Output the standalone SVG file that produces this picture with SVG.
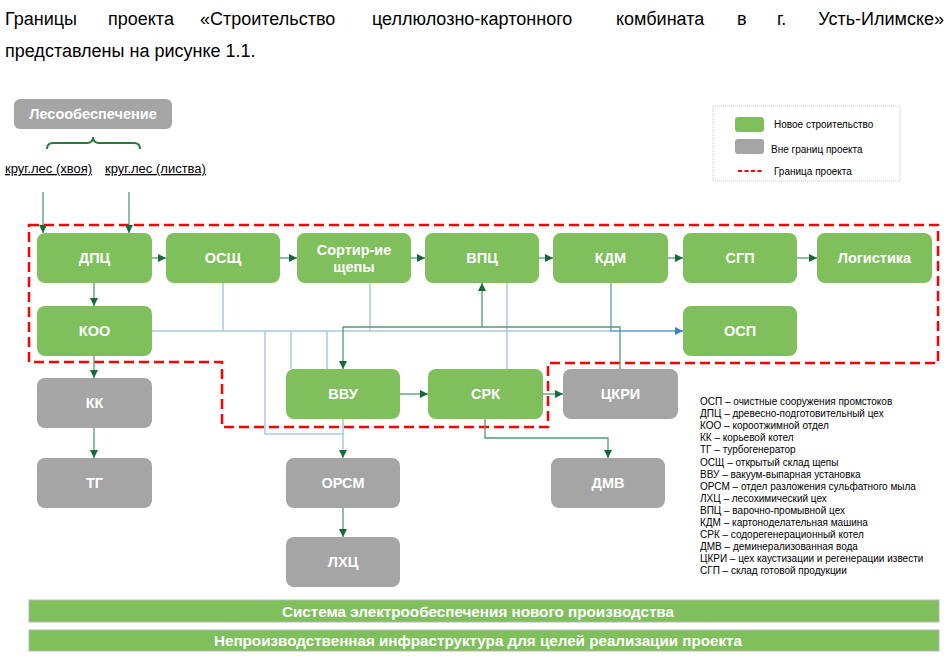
<svg xmlns="http://www.w3.org/2000/svg" width="949" height="668" viewBox="0 0 949 668">
<style>
.hdr{font-family:"Liberation Sans",Arial,sans-serif;font-size:18px;fill:#000}
.ng rect{fill:#80c05c}
.gy rect{fill:#a5a5a5}
.lbl{font-family:"Liberation Sans",Arial,sans-serif;font-size:14.5px;font-weight:bold;fill:#fff;text-anchor:middle}
.sm{font-family:"Liberation Sans",Arial,sans-serif;font-size:13px;fill:#000;text-decoration:underline}
.lg{font-family:"Liberation Sans",Arial,sans-serif;font-size:10px;fill:#000}
.ab{font-family:"Liberation Sans",Arial,sans-serif;font-size:10px;fill:#000}
.gc{fill:none;stroke:#4f9b73;stroke-width:1.3}
.bc{fill:none;stroke:#a9c8e7;stroke-width:1.5}
.bs{fill:none;stroke:#5b9bd5;stroke-width:1.3}
.bar{fill:#80c05c;stroke:#b5b5b5;stroke-width:1}
.bt{font-family:"Liberation Sans",Arial,sans-serif;font-size:15px;font-weight:bold;fill:#fff;text-anchor:middle}
</style>
<defs>
<marker id="ag" viewBox="0 0 8 8" refX="8" refY="4" markerWidth="8" markerHeight="8" orient="auto" markerUnits="userSpaceOnUse"><path d="M0,0 L8,4 L0,8 z" fill="#17693a"/></marker>
<marker id="ab" viewBox="0 0 8 8" refX="8" refY="4" markerWidth="8" markerHeight="8" orient="auto" markerUnits="userSpaceOnUse"><path d="M0,0 L8,4 L0,8 z" fill="#3d7fc7"/></marker>
</defs>
<rect width="949" height="668" fill="#fff"/>

<g id="header">
<text class="hdr" x="5" y="25">Границы</text>
<text class="hdr" x="108" y="25">проекта</text>
<text class="hdr" x="200" y="25">«Строительство</text>
<text class="hdr" x="372" y="25">целлюлозно-картонного</text>
<text class="hdr" x="616" y="25">комбината</text>
<text class="hdr" x="737" y="25">в</text>
<text class="hdr" x="777" y="25">г.</text>
<text class="hdr" x="944" y="25" text-anchor="end">Усть-Илимске»</text>
<text class="hdr" x="5" y="57">представлены на рисунке 1.1.</text>
</g>

<g id="boundary">
<path d="M29,225 H938 V363 H548 V427 H222 V362 H29 Z" fill="none" stroke="#ff0000" stroke-width="2.5" stroke-dasharray="10 5"/>
</g>

<g id="supply">
<rect x="14" y="99" width="158" height="30" rx="6" fill="#a5a5a5"/>
<text class="lbl" x="93" y="119">Лесообеспечение</text>
<path d="M47,149 Q47,143 53,143 H87 Q93,143 93,137 Q93,143 99,143 H134 Q140,143 140,149" fill="none" stroke="#2a7a3b" stroke-width="2"/>
<text class="sm" x="5" y="173">круг.лес (хвоя)</text>
<text class="sm" x="105" y="173">круг.лес (листва)</text>
</g>

<g id="connectors">
<path class="gc" d="M43,192 V233" marker-end="url(#ag)"/>
<path class="gc" d="M129,192 V233" marker-end="url(#ag)"/>
<path class="gc" d="M152,258 H166" marker-end="url(#ag)"/>
<path class="gc" d="M280,258 H297" marker-end="url(#ag)"/>
<path class="gc" d="M411,258 H425" marker-end="url(#ag)"/>
<path class="gc" d="M539,258 H553" marker-end="url(#ag)"/>
<path class="gc" d="M668,258 H683" marker-end="url(#ag)"/>
<path class="gc" d="M797,258 H817" marker-end="url(#ag)"/>
<path class="gc" d="M94,283 V306" marker-end="url(#ag)"/>
<path class="gc" d="M94,356 V378" marker-end="url(#ag)"/>
<path class="gc" d="M94,428 V458" marker-end="url(#ag)"/>
<path class="bc" d="M152,331 H611"/>
<path class="bc" d="M223,283 V331"/>
<path class="bc" d="M370,283 V331"/>
<path class="bc" d="M507,283 V369"/>
<path class="bc" d="M265,331 V434 H343"/>
<path class="bc" d="M291,331 V369"/>
<path class="bc" d="M327,331 V369"/>
<path class="bc" d="M343,419 V458" marker-end="url(#ag)"/>
<path class="bs" d="M611,283 V331 H683" marker-end="url(#ab)"/>
<path class="gc" d="M620,369 V327 H343 V369" marker-end="url(#ag)"/>
<path class="gc" d="M482,327 V283" marker-end="url(#ag)"/>
<path class="gc" d="M400,394 H428" marker-end="url(#ag)"/>
<path class="gc" d="M543,394 H563" marker-end="url(#ag)"/>
<path class="gc" d="M343,508 V537" marker-end="url(#ag)"/>
<path class="gc" d="M485,419 V438 H608 V458" marker-end="url(#ag)"/>
</g>

<g id="n-dpc" class="ng"><rect x="37" y="233" width="115" height="50" rx="8"/><text class="lbl" x="94.5" y="263">ДПЦ</text></g>
<g id="n-osch" class="ng"><rect x="166" y="233" width="114" height="50" rx="8"/><text class="lbl" x="223" y="263">ОСЩ</text></g>
<g id="n-sort" class="ng"><rect x="297" y="233" width="114" height="50" rx="8"/><text class="lbl" x="354" y="255">Сортир-ие</text><text class="lbl" x="354" y="272">щепы</text></g>
<g id="n-vpc" class="ng"><rect x="425" y="233" width="114" height="50" rx="8"/><text class="lbl" x="482" y="263">ВПЦ</text></g>
<g id="n-kdm" class="ng"><rect x="553" y="233" width="115" height="50" rx="8"/><text class="lbl" x="610.5" y="263">КДМ</text></g>
<g id="n-sgp" class="ng"><rect x="683" y="233" width="114" height="50" rx="8"/><text class="lbl" x="740" y="263">СГП</text></g>
<g id="n-log" class="ng"><rect x="817" y="233" width="115" height="50" rx="8"/><text class="lbl" x="874.5" y="263">Логистика</text></g>
<g id="n-koo" class="ng"><rect x="37" y="306" width="115" height="50" rx="8"/><text class="lbl" x="94.5" y="336">КОО</text></g>
<g id="n-osp" class="ng"><rect x="683" y="306" width="114" height="50" rx="8"/><text class="lbl" x="740" y="336">ОСП</text></g>
<g id="n-kk" class="gy"><rect x="37" y="378" width="115" height="50" rx="8"/><text class="lbl" x="94.5" y="408">КК</text></g>
<g id="n-tg" class="gy"><rect x="37" y="458" width="115" height="50" rx="8"/><text class="lbl" x="94.5" y="488">ТГ</text></g>
<g id="n-vvu" class="ng"><rect x="286" y="369" width="114" height="50" rx="8"/><text class="lbl" x="343" y="399">ВВУ</text></g>
<g id="n-srk" class="ng"><rect x="428" y="369" width="115" height="50" rx="8"/><text class="lbl" x="485.5" y="399">СРК</text></g>
<g id="n-ckri" class="gy"><rect x="563" y="369" width="115" height="50" rx="8"/><text class="lbl" x="620.5" y="399">ЦКРИ</text></g>
<g id="n-orsm" class="gy"><rect x="286" y="458" width="114" height="50" rx="8"/><text class="lbl" x="343" y="488">ОРСМ</text></g>
<g id="n-dmv" class="gy"><rect x="551" y="458" width="114" height="50" rx="8"/><text class="lbl" x="608" y="488">ДМВ</text></g>
<g id="n-lhc" class="gy"><rect x="286" y="537" width="114" height="50" rx="8"/><text class="lbl" x="343" y="567">ЛХЦ</text></g>

<g id="legend">
<rect x="713" y="106" width="187" height="75" fill="#fff" stroke="#c8c8c8" stroke-width="1" stroke-dasharray="1 1"/>
<rect x="735" y="117" width="29" height="15" rx="3" fill="#80c05c"/>
<text class="lg" x="774" y="128">Новое строительство</text>
<rect x="735" y="139" width="29" height="15" rx="3" fill="#a5a5a5"/>
<text class="lg" x="771" y="153">Вне границ проекта</text>
<path d="M738,171 H762" stroke="#ff0000" stroke-width="2" stroke-dasharray="4 2.5"/>
<text class="lg" x="774" y="175">Граница проекта</text>
</g>

<g id="abbreviations">
<text class="ab" x="700" y="405">ОСП – очистные сооружения промстоков</text>
<text class="ab" x="700" y="417.1">ДПЦ – древесно-подготовительный цех</text>
<text class="ab" x="700" y="429.2">КОО – короотжимной отдел</text>
<text class="ab" x="700" y="441.3">КК – корьевой котел</text>
<text class="ab" x="700" y="453.4">ТГ – турбогенератор</text>
<text class="ab" x="700" y="465.5">ОСЩ – открытый склад щепы</text>
<text class="ab" x="700" y="477.6">ВВУ – вакуум-выпарная установка</text>
<text class="ab" x="700" y="489.7">ОРСМ – отдел разложения сульфатного мыла</text>
<text class="ab" x="700" y="501.8">ЛХЦ – лесохимический цех</text>
<text class="ab" x="700" y="513.9">ВПЦ – варочно-промывной цех</text>
<text class="ab" x="700" y="526">КДМ – картоноделательная машина</text>
<text class="ab" x="700" y="538.1">СРК – содорегенерационный котел</text>
<text class="ab" x="700" y="550.2">ДМВ – деминерализованная вода</text>
<text class="ab" x="700" y="562.3">ЦКРИ – цех каустизации и регенерации извести</text>
<text class="ab" x="700" y="574.4">СГП – склад готовой продукции</text>
</g>

<g id="bar-power">
<rect class="bar" x="29" y="600" width="910" height="22"/>
<text class="bt" x="478" y="616.5" textLength="392" lengthAdjust="spacingAndGlyphs">Система электрообеспечения нового производства</text>
</g>
<g id="bar-infra">
<rect class="bar" x="29" y="630" width="910" height="21"/>
<text class="bt" x="478" y="646" textLength="528" lengthAdjust="spacingAndGlyphs">Непроизводственная инфраструктура для целей реализации проекта</text>
</g>
</svg>
